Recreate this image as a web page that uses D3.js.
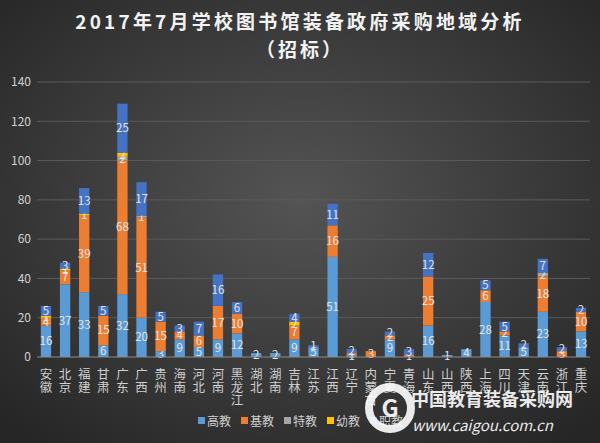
<!DOCTYPE html>
<html lang="zh">
<head>
<meta charset="utf-8" />
<title>2017年7月学校图书馆装备政府采购地域分析</title>
<script src="https://cdn.jsdelivr.net/npm/d3@7"></script>
<style>
  body { margin: 0; background: #2b2b2b; }
  text { font-family: "Noto Sans CJK SC", "Noto Sans", sans-serif; }
</style>
</head>
<body>
<div id="chart"></div>
<script>
// categories and series
const provinces = ["安徽","北京","福建","甘肃","广东","广西","贵州","海南","河北","河南","黑龙江","湖北","湖南","吉林","江苏","江西","辽宁","内蒙古","宁夏","青海","山东","山西","陕西","上海","四川","天津","云南","浙江","重庆"];
const seriesNames = ["高教","基教","特教","幼教","职教"];
const gaojiao  = [16,37,33,6,32,20,3,9,5,9,12,2,2,9,5,51,1,0,9,0,16,1,4,28,11,5,23,0,13];
const jijiao   = [4,7,39,15,68,51,15,4,6,17,10,0,0,7,0,16,1,3,2,1,25,0,0,6,2,0,18,3,10];
const tejiao   = [0,0,0,0,2,1,0,0,0,0,0,0,0,0,0,0,0,0,0,0,0,0,0,0,0,0,2,0,0];
const youjiao  = [1,1,1,0,2,0,0,0,0,0,0,0,0,2,0,0,0,0,0,0,0,0,0,0,0,0,0,0,0];
const zhijiao  = [5,3,13,5,25,17,5,3,7,16,6,0,0,4,1,11,2,0,2,3,12,0,0,5,5,2,7,2,2];
const yTicks = [0,20,40,60,80,100,120,140];
const colors = ["#5b9bd5","#ed7d31","#a5a5a5","#ffc000","#4472c4"];

const W = 600, H = 443;
const margin = {top: 82, right: 10, bottom: 86, left: 37};

const svg = d3.select("#chart").append("svg")
  .attr("width", W).attr("height", H);

// background
const grad = svg.append("defs").append("radialGradient")
  .attr("id", "bg").attr("cx", "50%").attr("cy", "45%").attr("r", "70%");
grad.append("stop").attr("offset", "0%").attr("stop-color", "#545454");
grad.append("stop").attr("offset", "100%").attr("stop-color", "#262626");
svg.append("rect").attr("width", W).attr("height", H).attr("fill", "url(#bg)");

// title
svg.append("text").attr("x", W / 2).attr("y", 29).attr("text-anchor", "middle")
  .attr("fill", "#f2f2f2").style("font-size", "19px").style("font-weight", "bold")
  .style("letter-spacing", "3.2px")
  .text("2017年7月学校图书馆装备政府采购地域分析");
svg.append("text").attr("x", W / 2).attr("y", 57).attr("text-anchor", "middle")
  .attr("fill", "#f2f2f2").style("font-size", "19px").style("font-weight", "bold")
  .style("letter-spacing", "3px")
  .text("（招标）");

const rows = provinces.map((p, i) => ({
  name: p, "高教": gaojiao[i], "基教": jijiao[i], "特教": tejiao[i], "幼教": youjiao[i], "职教": zhijiao[i]
}));
const stack = d3.stack().keys(seriesNames)(rows);

const x = d3.scaleBand().domain(provinces)
  .range([margin.left, W - margin.right]).paddingInner(0.46).paddingOuter(0.2);
const y = d3.scaleLinear().domain([0, 140]).range([H - margin.bottom, margin.top]);

// gridlines
svg.append("g").selectAll("line").data(yTicks.slice(1)).join("line")
  .attr("x1", margin.left).attr("x2", W - margin.right)
  .attr("y1", d => y(d)).attr("y2", d => y(d))
  .attr("stroke", "#5a5a5a").attr("stroke-width", 1);

// y axis
const yAxis = svg.append("g").attr("transform", `translate(${margin.left - 6},0)`)
  .call(d3.axisLeft(y).tickValues(yTicks).tickSize(0).tickPadding(0));
yAxis.select(".domain").remove();
yAxis.selectAll("text").attr("fill", "#d0d0d0").style("font-size", "12px");

// bars
const layers = svg.append("g").selectAll("g").data(stack).join("g")
  .attr("fill", (d, i) => colors[i]);
layers.selectAll("rect").data(d => d).join("rect")
  .attr("x", d => x(d.data.name))
  .attr("width", x.bandwidth())
  .attr("y", d => y(d[1]))
  .attr("height", d => y(d[0]) - y(d[1]));

// value labels
layers.selectAll("text").data(d => d.map(v => ({v, key: d.key}))).join("text")
  .filter(d => d.v[1] - d.v[0] > 0)
  .attr("x", d => x(d.v.data.name) + x.bandwidth() / 2)
  .attr("y", d => (y(d.v[0]) + y(d.v[1])) / 2 + 4)
  .attr("text-anchor", "middle")
  .attr("fill", "#e6e6e6")
  .style("font-size", "11.5px")
  .text(d => d.v[1] - d.v[0]);

// baseline
svg.append("line").attr("x1", margin.left).attr("x2", W - margin.right)
  .attr("y1", y(0)).attr("y2", y(0)).attr("stroke", "#8c8c8c");

// x labels, one character per line
const xl = svg.append("g").selectAll("text").data(provinces).join("text")
  .attr("text-anchor", "middle").attr("fill", "#cfcfcf").style("font-size", "12.5px");
xl.each(function(p) {
  const t = d3.select(this);
  p.split("").forEach((c, j) => {
    t.append("tspan").attr("x", x(p) + x.bandwidth() / 2)
      .attr("y", y(0) + 22 + j * 13).text(c);
  });
});

// legend
const lg = svg.append("g").attr("transform", "translate(198,426)");
seriesNames.forEach((s, i) => {
  const g = lg.append("g").attr("transform", `translate(${i * 43},0)`);
  g.append("rect").attr("x", 0).attr("y", -9).attr("width", 7).attr("height", 7).attr("fill", colors[i]);
  g.append("text").attr("x", 9).attr("y", 0).attr("fill", "#d0d0d0")
    .style("font-size", "12px").text(s);
});

// watermark
const wm = svg.append("g").attr("opacity", 0.9);
wm.append("circle").attr("cx", 390).attr("cy", 408).attr("r", 21)
  .attr("fill", "none").attr("stroke", "#ffffff").attr("stroke-width", 8);
wm.append("text").attr("x", 390).attr("y", 417).attr("text-anchor", "middle")
  .attr("fill", "#ffffff").style("font-size", "24px").style("font-weight", "bold").text("G");
wm.append("text").attr("x", 411).attr("y", 406).attr("fill", "#ffffff")
  .style("font-size", "18px").style("font-weight", "bold").text("中国教育装备采购网");
wm.append("text").attr("x", 412).attr("y", 431).attr("fill", "#ffffff")
  .style("font-size", "15px").style("font-style", "italic").text("www.caigou.com.cn");
</script>
</body>
</html>
